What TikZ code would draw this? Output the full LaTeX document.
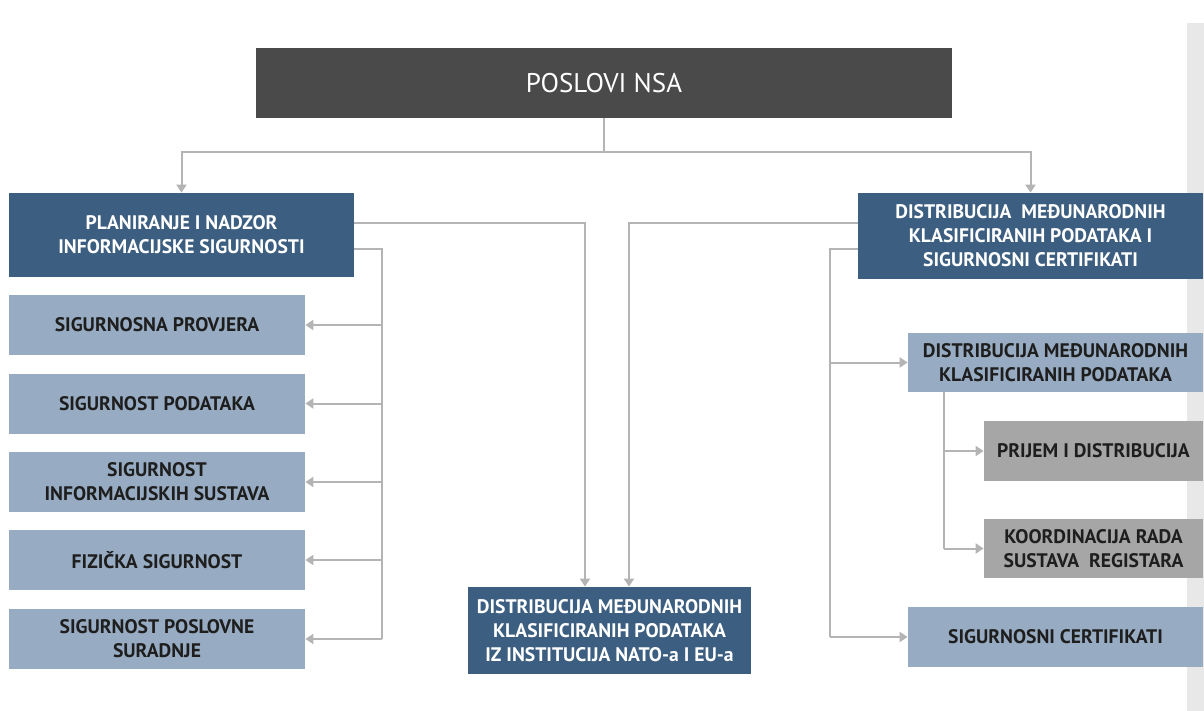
\documentclass[tikz,border=0pt]{standalone}
\usepackage{fontspec}
\setmainfont{PT Sans}
\usetikzlibrary{arrows.meta}
\definecolor{headgray}{HTML}{4A4A4A}
\definecolor{darkblue}{HTML}{3C5E80}
\definecolor{lightblue}{HTML}{97ACC2}
\definecolor{midgray}{HTML}{A6A6A6}
\definecolor{linegray}{HTML}{B4B4B4}
\definecolor{stripgray}{HTML}{E8E8E8}
\definecolor{inkgray}{HTML}{1E1E1E}
\tikzset{
    box/.style={rectangle, inner sep=0pt, align=center,
        font=\fontsize{9.8}{12}\selectfont\bfseries},
    darkbox/.style={box, fill=darkblue, text=white},
    lightbox/.style={box, fill=lightblue, text=inkgray},
    graybox/.style={box, fill=midgray, text=inkgray},
    conn/.style={draw=linegray, line width=1pt},
    arr/.style={conn, -{Triangle[width=5pt,length=4pt]}}
}
\begin{document}
\begin{tikzpicture}[x=0.5pt, y=-0.5pt]
    \useasboundingbox (0, 0) rectangle (1204, 711);
    \fill[stripgray] (1187, 23) rectangle (1204, 711);

    \node[box, fill=headgray, text=white, minimum width=348pt, minimum height=35pt,
        font=\fontsize{13.5}{16}\selectfont] (head) at (604, 83) {POSLOVI NSA};

    \node[darkbox, minimum width=172.5pt, minimum height=42pt] (plan) at (181.5, 235)
        {PLANIRANJE I NADZOR\\INFORMACIJSKE SIGURNOSTI};
    \node[lightbox, minimum width=148pt, minimum height=30pt] (prov) at (157, 325) {SIGURNOSNA PROVJERA};
    \node[lightbox, minimum width=148pt, minimum height=30pt] (pod) at (157, 403.5) {SIGURNOST PODATAKA};
    \node[lightbox, minimum width=148pt, minimum height=30pt] (sis) at (157, 482)
        {SIGURNOST\\INFORMACIJSKIH SUSTAVA};
    \node[lightbox, minimum width=148pt, minimum height=30pt] (fiz) at (157, 560) {FIZIČKA SIGURNOST};
    \node[lightbox, minimum width=148pt, minimum height=30pt] (pos) at (157, 639)
        {SIGURNOST POSLOVNE\\SURADNJE};

    \node[darkbox, minimum width=141.5pt, minimum height=43.5pt] (nato) at (609.5, 630.5)
        {DISTRIBUCIJA MEĐUNARODNIH\\KLASIFICIRANIH PODATAKA\\IZ INSTITUCIJA NATO-a I EU-a};

    \node[darkbox, minimum width=172.5pt, minimum height=43pt] (dist) at (1030.5, 236)
        {DISTRIBUCIJA~ MEĐUNARODNIH\\KLASIFICIRANIH PODATAKA I\\SIGURNOSNI CERTIFIKATI};
    \node[lightbox, minimum width=147.5pt, minimum height=29.5pt] (distmed) at (1055.5, 362.5)
        {DISTRIBUCIJA MEĐUNARODNIH\\KLASIFICIRANIH PODATAKA};
    \node[graybox, minimum width=109.5pt, minimum height=30pt] (prijem) at (1093.5, 451)
        {PRIJEM I DISTRIBUCIJA};
    \node[graybox, minimum width=109.5pt, minimum height=29.5pt] (koord) at (1093.5, 548.5)
        {KOORDINACIJA RADA\\SUSTAVA~ REGISTARA};
    \node[lightbox, minimum width=147.5pt, minimum height=30pt] (cert) at (1055.5, 637)
        {SIGURNOSNI CERTIFIKATI};

    \coordinate (split) at (604, 152);
    \coordinate (lbus) at (382, 0);
    \coordinate (rbus) at (830, 0);
    \coordinate (sbus) at (944, 0);

    \draw[arr] (head.south) -- (split) -| (plan.north);
    \draw[arr] (split) -| (dist.north);

    \draw[arr] ([yshift=6pt]plan.east) -| ([xshift=-12.25pt]nato.north);
    \draw[arr] ([yshift=6.5pt]dist.west) -| ([xshift=9.75pt]nato.north);

    \draw[conn] ([yshift=-7pt]plan.east) -| (lbus |- pos.east);
    \foreach \n in {prov, pod, sis, fiz, pos}
        \draw[arr] (lbus |- \n.east) -- (\n.east);

    \draw[conn] ([yshift=-6.5pt]dist.west) -| (rbus |- cert.west);
    \foreach \n in {distmed, cert}
        \draw[arr] (rbus |- \n.west) -- (\n.west);

    \draw[conn] (sbus |- distmed.south) -- (sbus |- koord.west);
    \foreach \n in {prijem, koord}
        \draw[arr] (sbus |- \n.west) -- (\n.west);
\end{tikzpicture}
\end{document}
